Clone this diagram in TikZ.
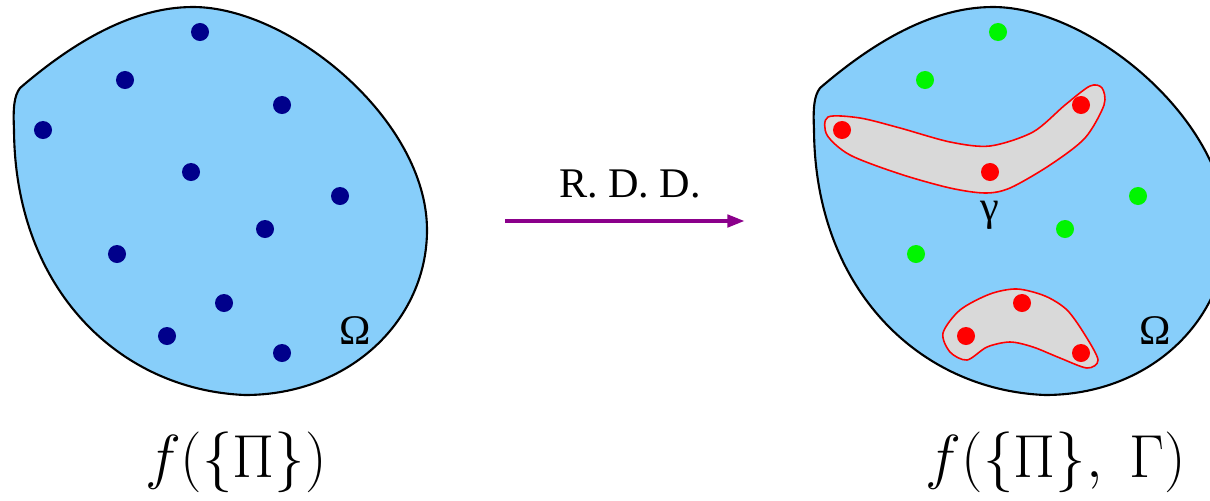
\documentclass[tikz,border=0pt]{standalone}
\usepackage{fontspec}
\setmainfont{Liberation Serif}
\usetikzlibrary{arrows.meta}

\definecolor{skyfill}{RGB}{135,206,250}
\definecolor{navydot}{RGB}{0,0,139}
\definecolor{greendot}{RGB}{0,245,0}
\definecolor{reddot}{RGB}{255,0,0}
\definecolor{arrowpurple}{RGB}{139,0,139}

\tikzset{
  blob/.style={draw=black,line width=0.6pt,fill=skyfill},
  cluster/.style={draw=red,line width=0.45pt,fill=gray!30},
  pt/.style={circle,fill=#1,inner sep=0pt,minimum size=0.18cm},
  lbl/.style={font=\fontsize{12}{14}\selectfont},
  formula/.style={font=\fontsize{17.28}{21}\selectfont}
}

\begin{document}
\begin{tikzpicture}[x=0.01cm,y=-0.01cm]
\path[clip] (0,0) rectangle (1210,500);
% the two domains
\foreach \dx in {0,800}
  \draw[blob,shift={(\dx,0)}] (20,88) .. controls (70,45) and (130,7) .. (193,7)
    .. controls (290,7) and (427,120) .. (427,230)
    .. controls (427,320) and (350,395) .. (245,395)
    .. controls (120,390) and (15,290) .. (14,130)
    .. controls (13,108) and (14,96) .. cycle;
% left domain
\node[pt=navydot] (p1) at (200,32) {};
\node[pt=navydot] (p2) at (125,80) {};
\node[pt=navydot] (p3) at (282,105) {};
\node[pt=navydot] (p4) at (43,130) {};
\node[pt=navydot] (p5) at (191,172) {};
\node[pt=navydot] (p6) at (340,196) {};
\node[pt=navydot] (p7) at (265,229) {};
\node[pt=navydot] (p8) at (117,254) {};
\node[pt=navydot] (p9) at (224,303) {};
\node[pt=navydot] (p10) at (167,336) {};
\node[pt=navydot] (p11) at (282,353) {};
\node[lbl] (omL) at (355,331) {Ω};
% right domain, clusters first
\draw[cluster] plot[smooth cycle] coordinates {(828,117) (860,118) (900,128)
  (950,142) (990,146) (1033,132) (1065,105) (1090,86) (1102,88) (1104,105)
  (1085,138) (1050,165) (1010,188) (985,193) (950,188) (900,174) (850,155)
  (827,135)};
\draw[cluster] plot[smooth cycle] coordinates {(943,333) (960,310) (990,294)
  (1017,289) (1045,296) (1067,310) (1085,335) (1098,360) (1087,368)
  (1060,358) (1033,347) (1010,342) (987,347) (967,360) (950,352)};
\node[pt=greendot] (g1) at (998,32) {};
\node[pt=greendot] (g2) at (925,80) {};
\node[pt=greendot] (g3) at (1138,196) {};
\node[pt=greendot] (g4) at (1065,229) {};
\node[pt=greendot] (g5) at (916,254) {};
\node[pt=reddot] (r1) at (842,130) {};
\node[pt=reddot] (r2) at (1081,105) {};
\node[pt=reddot] (r3) at (990,172) {};
\node[pt=reddot] (r4) at (1022,303) {};
\node[pt=reddot] (r5) at (966,336) {};
\node[pt=reddot] (r6) at (1081,353) {};
\node[lbl] (gam) at (990,215) {γ};
\node[lbl] (omR) at (1155,331) {Ω};
% map between them
\node[lbl] (rdd) at (630,184) {R. D. D.};
\coordinate (a0) at (505,221);
\coordinate (a1) at (745,221);
\draw[arrowpurple,line width=1.4pt,-{Triangle[length=5pt,width=3.4pt]}] (a0) -- (a1);
% functionals
\node[formula] (fL) at (236,462) {$f(\{\Pi\})$};
\node[formula] (fR) at (1056,462) {$f(\{\Pi\},\;\Gamma)$};
\end{tikzpicture}
\end{document}
